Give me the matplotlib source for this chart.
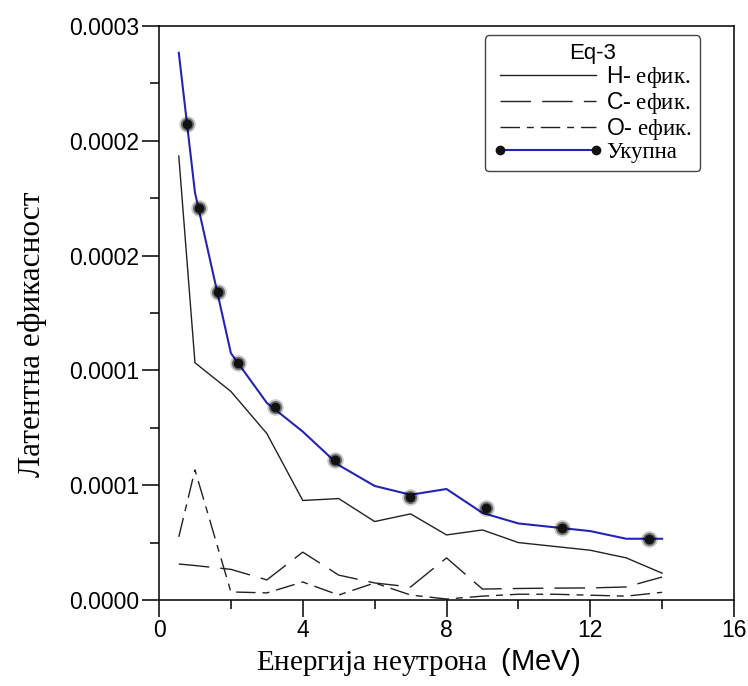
import matplotlib
matplotlib.use("Agg")
import matplotlib.pyplot as plt
from matplotlib.lines import Line2D
from matplotlib.ticker import MultipleLocator, FormatStrFormatter

plt.rcParams['font.family'] = ['Liberation Sans', 'DejaVu Sans']
plt.rcParams['mathtext.fontset'] = 'custom'
plt.rcParams['mathtext.sf'] = 'Liberation Sans'
plt.rcParams['mathtext.rm'] = 'Liberation Serif'

# енергија неутрона (MeV)
energy = [0.55, 1, 2, 3, 4, 5, 6, 7, 8, 9, 10, 11, 12, 13, 14]
# ефикасности (x 1e-4)
h_eff = [2.32, 1.24, 1.09, 0.87, 0.52, 0.53, 0.41, 0.45, 0.34, 0.366, 0.30, 0.28, 0.26, 0.22, 0.14]
c_eff = [0.188, 0.18, 0.16, 0.105, 0.25, 0.13, 0.089, 0.068, 0.22, 0.057, 0.06, 0.062, 0.063, 0.068, 0.12]
o_eff = [0.33, 0.68, 0.042, 0.037, 0.094, 0.026, 0.089, 0.026, 0.005, 0.02, 0.03, 0.03, 0.025, 0.02, 0.04]
ukupna = [2.86, 2.13, 1.29, 1.03, 0.88, 0.705, 0.596, 0.55, 0.58, 0.455, 0.40, 0.38, 0.36, 0.32, 0.32]
# положаји маркера на укупној кривој
marker_e = [0.78, 1.11, 1.64, 2.19, 3.22, 4.89, 6.97, 9.11, 11.22, 13.64]
marker_v = [2.49, 2.05, 1.61, 1.24, 1.01, 0.73, 0.54, 0.48, 0.376, 0.32]

scale = 1e-4
h = [v * scale for v in h_eff]
c = [v * scale for v in c_eff]
o = [v * scale for v in o_eff]
tot = [v * scale for v in ukupna]
mv = [v * scale for v in marker_v]

blue = '#2424b4'

fig = plt.figure(figsize=(7.48, 6.86), dpi=100)
ax = fig.add_axes([0.2126, 0.1254, 0.7687, 0.8367])

ax.plot(energy, h, color='#222222', lw=1.0)
ax.plot(energy, c, color='#222222', lw=1.0, dashes=(22, 8))
ax.plot(energy, o, color='#222222', lw=1.0, dashes=(14, 5, 5, 5))
ax.plot(energy, tot, color=blue, lw=1.5)
# мекани ореол око маркера
ax.plot(marker_e, mv, ls='none', marker='o', ms=12, mfc='#000000', mec='none', alpha=0.2)
ax.plot(marker_e, mv, ls='none', marker='o', ms=9.5, mfc='#000000', mec='none', alpha=0.45)
ax.plot(marker_e, mv, ls='none', marker='o', ms=7, mfc='#111111', mec='none')

ax.set_xlim(0, 16)
ax.set_ylim(0, 0.0003)
ax.xaxis.set_major_locator(MultipleLocator(4))
ax.xaxis.set_minor_locator(MultipleLocator(2))
ax.yaxis.set_major_locator(MultipleLocator(0.00006))
ax.yaxis.set_minor_locator(MultipleLocator(0.00003))
ax.yaxis.set_major_formatter(FormatStrFormatter('%.4f'))
ax.tick_params(which='major', direction='out', length=12, width=1.1, labelsize=16.5, pad=2)
ax.tick_params(which='minor', direction='out', length=6.5, width=1.1)
for s in ax.spines.values():
    s.set_linewidth(1.1)

ax.set_xlabel(r'Енергија неутрона  $\mathsf{(MeV)}$', family='Liberation Serif', fontsize=21)
ax.xaxis.set_label_coords(0.45, -0.08)
ax.set_ylabel('Латентна ефикасност', family='Liberation Serif', fontsize=22.5)
ax.yaxis.set_label_coords(-0.195, 0.463)

handles = [
    Line2D([], [], color='#222222', lw=1.0),
    Line2D([], [], color='#222222', lw=1.0, dashes=(22, 8)),
    Line2D([], [], color='#222222', lw=1.0, dashes=(14, 5, 5, 5)),
    Line2D([], [], color=blue, lw=1.5, marker='o', ms=7, mfc='#111111', mec='none'),
]
labels = [r'$\mathsf{H}$- ефик.', r'$\mathsf{C}$- ефик.', r'$\mathsf{O}$- ефик.', 'Укупна']
leg = ax.legend(handles, labels, title='Eq-3', loc='upper right', bbox_to_anchor=(0.941, 0.984),
                borderaxespad=0, fancybox=True, framealpha=1, edgecolor='#444444',
                handlelength=4.8, handletextpad=0.15, labelspacing=0.0, numpoints=2,
                borderpad=0.35, prop={'family': 'Liberation Serif', 'size': 16.5}, title_fontsize=16)
leg.get_frame().set_linewidth(1.0)

fig.savefig('out.png', dpi=100)
